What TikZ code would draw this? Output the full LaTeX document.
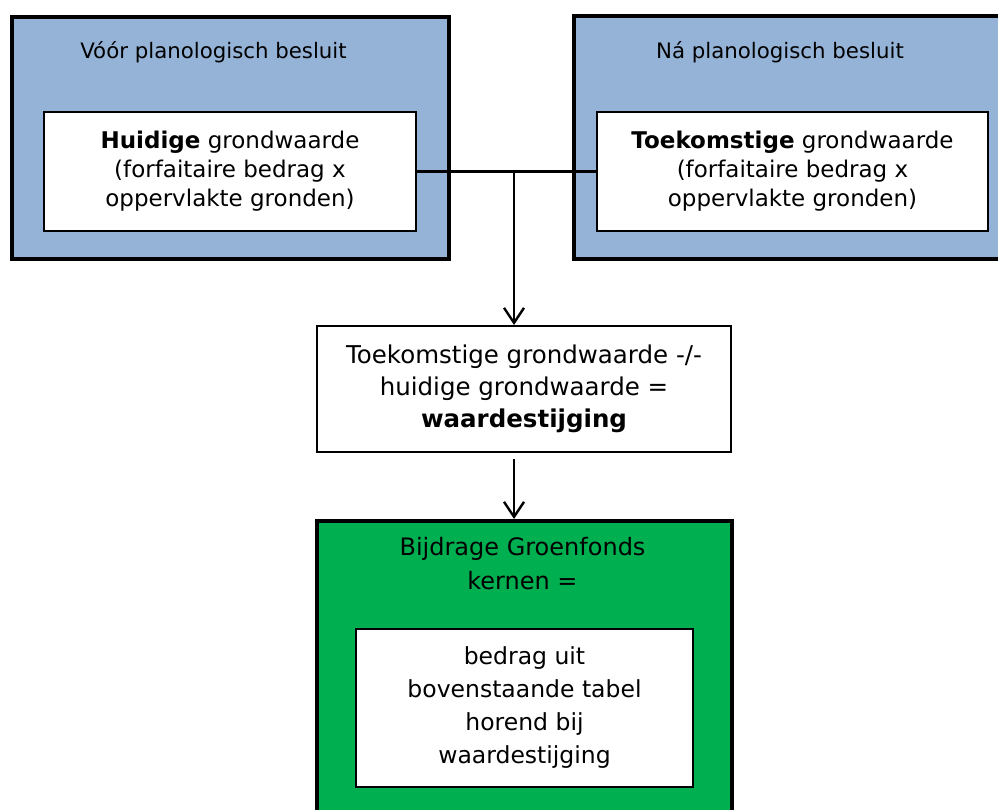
\documentclass[tikz,border=0pt]{standalone}
\usepackage{xcolor}
\usepackage{fontspec}
\setmainfont{DejaVu Sans}
\usepackage{tikz}
\usetikzlibrary{arrows.meta}
\definecolor{planblue}{RGB}{149,179,215}
\definecolor{fondsgreen}{RGB}{0,176,80}

\begin{document}
\begin{tikzpicture}[x=1pt,y=-1pt,
  outerbox/.style={draw,line width=3.8pt,anchor=north west,inner sep=0pt},
  innerbox/.style={draw,fill=white,line width=2pt,anchor=north west,inner sep=0pt,align=center,font=\fontsize{23}{29}\selectfont},
  headtext/.style={anchor=base,inner sep=0pt,align=center,font=\fontsize{21.3}{29}\selectfont},
  pijl/.style={-{Straight Barb[length=15pt,width=20pt,line width=2.4pt]},line width=2.2pt}]
\useasboundingbox (0,0) rectangle (998,809);
\clip (0,0) rectangle (998,809);
% blauwe blokken
\node[outerbox,fill=planblue,minimum width=437pt,minimum height=242pt] (voor) at (10,15) {};
\node[outerbox,fill=planblue,minimum width=460pt,minimum height=243pt] (na) at (572,14) {};
\node[headtext] (voortxt) at (213.5,58) {Vóór planologisch besluit};
\node[headtext] (natxt) at (780,58) {Ná planologisch besluit};
\node[innerbox,minimum width=372pt,minimum height=119pt] (huidig) at (43,111)
  {\textbf{Huidige} grondwaarde\\(forfaitaire bedrag x\\oppervlakte gronden)};
\node[innerbox,minimum width=391pt,minimum height=119pt] (toekomst) at (596,111)
  {\textbf{Toekomstige} grondwaarde\\(forfaitaire bedrag x\\oppervlakte gronden)};
% verschil
\node[innerbox,font=\fontsize{24.5}{32}\selectfont,minimum width=414pt,minimum height=126pt] (verschil) at (316,325)
  {Toekomstige grondwaarde -/-\\huidige grondwaarde =\\\textbf{waardestijging}};
% groen blok
\node[outerbox,fill=fondsgreen,minimum width=415pt,minimum height=330pt] (fonds) at (315,519) {};
\node[headtext,font=\fontsize{24}{34}\selectfont] (fondstxt) at (522.5,589) {Bijdrage Groenfonds\\kernen =};
\node[innerbox,font=\fontsize{23.5}{33}\selectfont,minimum width=337pt,minimum height=158pt] (bedrag) at (355,628)
  {bedrag uit\\bovenstaande tabel\\horend bij\\waardestijging};
% verbindingen
\coordinate (split) at (514,170);
\draw[line width=2.2pt] (huidig.east) -- (toekomst.west);
\draw[pijl] (split) -- (split |- verschil.north);
\draw[pijl] ([yshift=-6pt]split |- verschil.south) -- (split |- fonds.north);
\end{tikzpicture}
\end{document}
